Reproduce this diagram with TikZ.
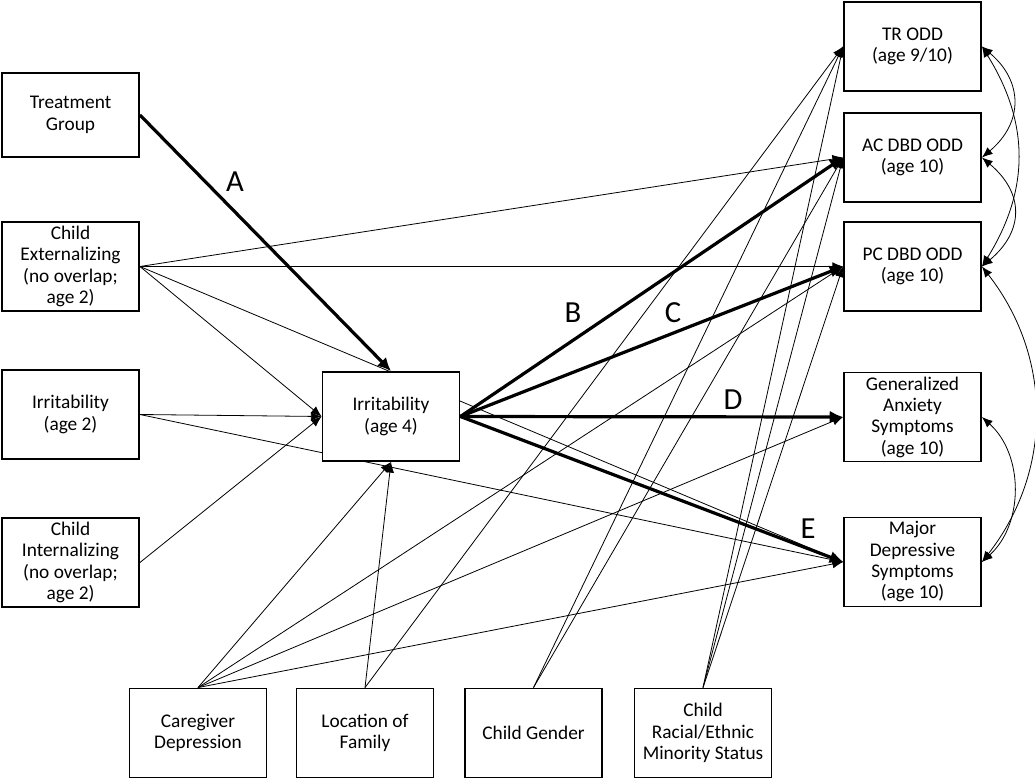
\documentclass[tikz,border=0pt]{standalone}
\usepackage{fontspec}
\setmainfont{Carlito}
\usetikzlibrary{arrows.meta}
\usetikzlibrary{backgrounds}

\begin{document}
\begin{tikzpicture}[x=0.75pt, y=-0.75pt,
  box/.style={draw, line width=1.4pt, fill=white, align=center, minimum width=102.75pt, minimum height=66.75pt, inner sep=1pt, font=\fontsize{14.5}{16}\selectfont},
  thinarrow/.style={line width=0.6pt, -{Latex[length=8pt,width=6.5pt]}},
  thickarrow/.style={line width=2.4pt, -{Latex[length=10pt,width=9.5pt]}},
  covarrow/.style={line width=0.6pt, {Latex[length=8pt,width=6.5pt]}-{Latex[length=8pt,width=6.5pt]}},
  letter/.style={font=\fontsize{23}{27}\selectfont}]
\useasboundingbox (0,0) rectangle (1035,781);

\node[box, minimum height=63pt] (treat) at (70.5,115) {Treatment\\Group};
\node[box] (ext) at (70.5,266.5) {Child\\Externalizing\\(no overlap;\\age 2)};
\node[box] (irr2) at (70.5,414.5) {Irritability\\(age 2)};
\node[box] (int) at (70.5,562.5) {Child\\Internalizing\\(no overlap;\\age 2)};
\node[box] (irr4) at (391,416.5) {Irritability\\(age 4)};

\node[box] (tr) at (912.5,46.5) {TR ODD\\(age 9/10)};
\node[box] (ac) at (912.5,157.5) {AC DBD ODD\\(age 10)};
\node[box] (pc) at (912.5,266.5) {PC DBD ODD\\(age 10)};
\node[box] (anx) at (912.5,417) {Generalized\\Anxiety\\Symptoms\\(age 10)};
\node[box] (mdd) at (912.5,562) {Major\\Depressive\\Symptoms\\(age 10)};

\node[box] (care) at (198,733) {Caregiver\\Depression};
\node[box] (loc) at (365,733) {Location of\\Family};
\node[box] (gen) at (533.5,733) {Child Gender};
\node[box] (race) at (703,733) {Child\\Racial/Ethnic\\Minority Status};

\node[letter] (labA) at (235,182) {A};
\node[letter] (labB) at (573,313) {B};
\node[letter] (labC) at (673,313) {C};
\node[letter] (labD) at (733,400) {D};
\node[letter] (labE) at (808,529) {E};

\begin{scope}[on background layer]
\draw[thinarrow] (ext.east) -- (ac.west);
\draw[thinarrow] (ext.east) -- (pc.west);
\draw[thinarrow] (ext.east) -- (mdd.west);
\draw[thinarrow] (ext.east) -- (irr4.west);
\draw[thinarrow] (irr2.east) -- (irr4.west);
\draw[thinarrow] (irr2.east) -- (mdd.west);
\draw[thinarrow] (int.east) -- (irr4.west);

\draw[thinarrow] (care.north) -- (irr4.south);
\draw[thinarrow] (care.north) -- (pc.west);
\draw[thinarrow] (care.north) -- (anx.west);
\draw[thinarrow] (care.north) -- (mdd.west);
\draw[thinarrow] (loc.north) -- (irr4.south);
\draw[thinarrow] (loc.north) -- (tr.west);
\draw[thinarrow] (gen.north) -- (tr.west);
\draw[thinarrow] (gen.north) -- (ac.west);
\draw[thinarrow] (race.north) -- (tr.west);
\draw[thinarrow] (race.north) -- (ac.west);
\draw[thinarrow] (race.north) -- (pc.west);

\draw[thickarrow] (treat.east) -- (irr4.north);
\draw[thickarrow] (irr4.east) -- (ac.west);
\draw[thickarrow] (irr4.east) -- (pc.west);
\draw[thickarrow] (irr4.east) -- (anx.west);
\draw[thickarrow] (irr4.east) -- (mdd.west);
\end{scope}

\draw[covarrow] (tr.east) to[bend left=50, looseness=1.25] (ac.east);
\draw[covarrow] (tr.east) to[bend left=32, looseness=1.05] (pc.east);
\draw[covarrow] (ac.east) to[bend left=50, looseness=1.3] (pc.east);
\draw[covarrow] (pc.east) to[bend left=38] (mdd.east);
\draw[covarrow] (anx.east) to[bend left=48] (mdd.east);
\end{tikzpicture}
\end{document}
